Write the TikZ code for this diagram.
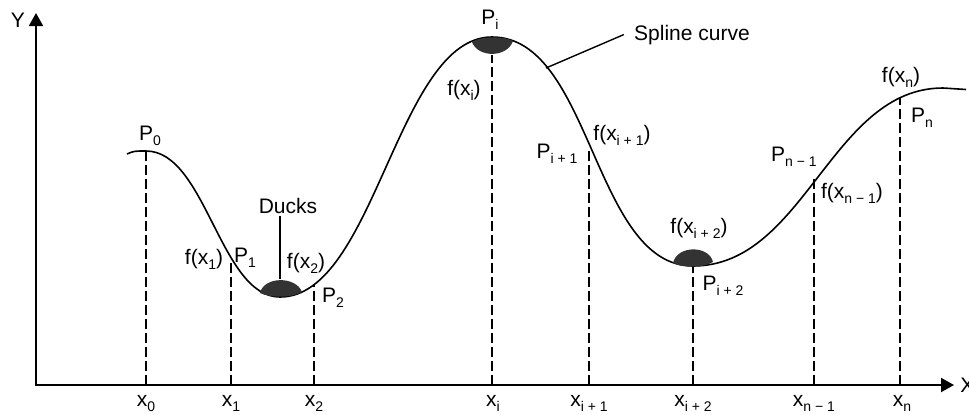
\documentclass[tikz,border=0pt]{standalone}
\usepackage{fontspec}
\setmainfont{Liberation Sans}
\usetikzlibrary{arrows.meta}
\newcommand{\lowidx}[1]{\raisebox{-2.5pt}{\fontsize{7}{8}\selectfont #1}}

\begin{document}
\begin{tikzpicture}[x=0.5pt,y=-0.5pt,
    font=\fontsize{10.5}{12}\selectfont,
    axis/.style={line width=1pt,
      {Triangle[length=6.5pt,width=7pt]}-{Triangle[length=6.5pt,width=7pt]}},
    spline/.style={line width=0.8pt},
    guide/.style={line width=1pt,dash pattern=on 5pt off 2pt},
    duck/.style={fill=black!80},
    lbl/.style={anchor=base,inner sep=1pt},
    lead/.style={line width=0.7pt}
  ]
  \useasboundingbox (0,0) rectangle (969,414);
  \coordinate (o) at (36,385);
  \coordinate (ytip) at (36,13);
  \coordinate (xtip) at (954,385);
  \draw[axis] (ytip) -- (o) -- (xtip);
  \node[lbl] (ylab) at (18,27) {Y};
  \node[lbl,anchor=base west] (xlab) at (958,392) {X};

  \draw[spline] (127,154) .. controls (134,151) .. (146,151)
    .. controls (206,151) and (220,297) .. (280,297)
    .. controls (375,297) and (397,37) .. (492,37)
    .. controls (592,37) and (593,266) .. (693,266)
    .. controls (805,266) and (831,88) .. (943,88)
    .. controls (955,88) .. (966,89.5);

  \fill[duck] (260,293) .. controls (264,276) and (296,276) .. (302,292)
    .. controls (292,298) and (270,298) .. cycle;
  \fill[duck] (472,42) .. controls (478,58) and (507,58) .. (513,41)
    .. controls (505,36) and (480,36) .. cycle;
  \fill[duck] (673,263) .. controls (677,245) and (709,245) .. (713,262)
    .. controls (703,268) and (683,268) .. cycle;

  \coordinate (p0) at (146,151);
  \coordinate (p1) at (231,259);
  \coordinate (p2) at (314,284);
  \coordinate (pi) at (492,55);
  \coordinate (pia) at (589,151);
  \coordinate (pib) at (693,267);
  \coordinate (pnb) at (814,178);
  \coordinate (pn) at (900,98);
  \foreach \p in {p0,p1,p2,pi,pia,pib,pnb,pn}
    \draw[guide] (\p |- o) -- (\p);

  \node[lbl] (lx0) at (146,406) {x\lowidx{0}};
  \node[lbl] (lx1) at (231,406) {x\lowidx{1}};
  \node[lbl] (lx2) at (314,406) {x\lowidx{2}};
  \node[lbl] (lxi) at (493,406) {x\lowidx{i}};
  \node[lbl] (lxia) at (589,406) {x\lowidx{i + 1}};
  \node[lbl] (lxib) at (693,406) {x\lowidx{i + 2}};
  \node[lbl] (lxnb) at (814,406) {x\lowidx{n − 1}};
  \node[lbl] (lxn) at (902,406) {x\lowidx{n}};

  \node[lbl] (lp0) at (150,140) {P\lowidx{0}};
  \node[lbl] (lf1) at (204,264) {f(x\lowidx{1})};
  \node[lbl] (lp1) at (245,262) {P\lowidx{1}};
  \node[lbl] (lf2) at (306,268) {f(x\lowidx{2})};
  \node[lbl] (lp2) at (333,302) {P\lowidx{2}};
  \node[lbl] (lpi) at (490,24) {P\lowidx{i}};
  \node[lbl] (lfi) at (464,95) {f(x\lowidx{i})};
  \node[lbl] (lpia) at (557,158) {P\lowidx{i + 1}};
  \node[lbl] (lfia) at (622,140) {f(x\lowidx{i + 1})};
  \node[lbl] (lfib) at (699,233) {f(x\lowidx{i + 2})};
  \node[lbl] (lpib) at (723,290) {P\lowidx{i + 2}};
  \node[lbl] (lpnb) at (794,161) {P\lowidx{n − 1}};
  \node[lbl] (lfnb) at (852,198) {f(x\lowidx{n − 1})};
  \node[lbl] (lfn) at (901,82) {f(x\lowidx{n})};
  \node[lbl] (lpn) at (922,122) {P\lowidx{n}};

  \node[lbl] (ducks) at (288,213) {Ducks};
  \coordinate (ducktop) at (280,279);
  \draw[lead] (ducks.south -| ducktop) -- (ducktop);
  \node[lbl] (spline) at (692,40) {Spline curve};
  \coordinate (sc) at (546,68);
  \draw[lead] (sc) -- ([xshift=-4pt]spline.west);
\end{tikzpicture}
\end{document}
